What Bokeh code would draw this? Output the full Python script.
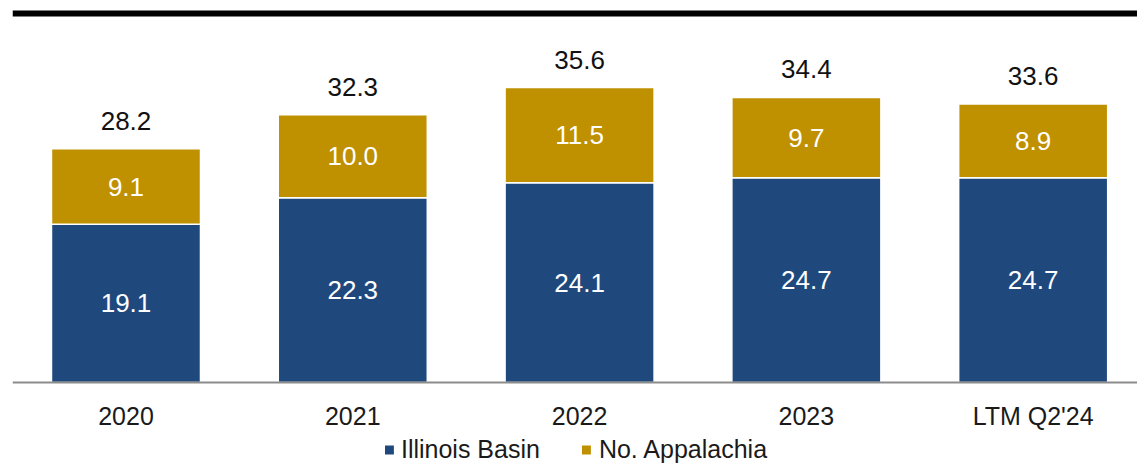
from bokeh.plotting import figure
from bokeh.models import (ColumnDataSource, Range1d, FixedTicker, LabelSet, Legend,
                          LegendItem, Span, LinearAxis)
from bokeh.core.properties import value
from bokeh.embed import file_html
from bokeh.resources import INLINE

# ---- data ----
categories = ["2020", "2021", "2022", "2023", "LTM Q2'24"]
illinois = [19.1, 22.3, 24.1, 24.7, 24.7]
appalachia = [9.1, 10.0, 11.5, 9.7, 8.9]
series_names = ["Illinois Basin", "No. Appalachia"]

BLUE = "#1F497D"
GOLD = "#BF9000"
FONT = "Liberation Sans"

xs = list(range(len(categories)))
totals = [round(a + b, 1) for a, b in zip(illinois, appalachia)]
ill_mid = [v / 2 for v in illinois]
app_mid = [a + b / 2 for a, b in zip(illinois, appalachia)]

src = ColumnDataSource(dict(
    x=xs, ill=illinois, app=appalachia, total=totals,
    ill_mid=ill_mid, app_mid=app_mid,
    ill_txt=[f"{v:.1f}" for v in illinois],
    app_txt=[f"{v:.1f}" for v in appalachia],
    tot_txt=[f"{v:.1f}" for v in totals],
))

p = figure(width=1137, height=464, output_backend="svg", toolbar_location=None,
           x_range=Range1d(-0.5004, 4.46), y_range=Range1d(-9.895, 46.10),
           min_border_left=12, min_border_right=0, min_border_top=0, min_border_bottom=0,
           x_axis_location=None, y_axis_location=None)
p.outline_line_color = None
p.grid.visible = False
p.background_fill_color = "white"

renderers = p.vbar_stack(["ill", "app"], x="x", width=0.657, source=src,
                         color=[BLUE, GOLD], line_color="white", line_width=1.5)

# top rule
p.add_layout(Span(location=44.53, dimension="width", line_color="black", line_width=6))

# labels
for col, ycol in (("ill_txt", "ill_mid"), ("app_txt", "app_mid")):
    p.add_layout(LabelSet(x="x", y=ycol, text=col, source=src, text_align="center",
                          text_baseline="middle", text_color="white",
                          text_font=value(FONT), text_font_size="26px"))
p.add_layout(LabelSet(x="x", y="total", text="tot_txt", source=src, text_align="center",
                      text_baseline="alphabetic", y_offset=19, text_color="#111111",
                      text_font=value(FONT), text_font_size="26px"))

ax = LinearAxis(fixed_location=0)
ax.ticker = FixedTicker(ticks=xs)
ax.major_label_overrides = {i: c for i, c in enumerate(categories)}
ax.major_tick_line_color = None
ax.minor_tick_line_color = None
ax.axis_line_color = "#8C8C8C"
ax.axis_line_width = 2
ax.major_label_text_font = FONT
ax.major_label_text_font_size = "25px"
ax.major_label_text_color = "#1a1a1a"
ax.major_label_standoff = 13
p.add_layout(ax, "below")

legend = Legend(items=[LegendItem(label=series_names[0], renderers=[renderers[0]]),
                       LegendItem(label=series_names[1], renderers=[renderers[1]])],
                orientation="horizontal", location="bottom_center",
                glyph_width=13, glyph_height=13, label_standoff=6, spacing=40,
                label_text_font=FONT, label_text_font_size="25px",
                label_text_color="#1a1a1a", border_line_color=None,
                background_fill_alpha=0, padding=0, margin=0)
p.add_layout(legend, "center")

open("out.html", "w").write(file_html(p, INLINE))
